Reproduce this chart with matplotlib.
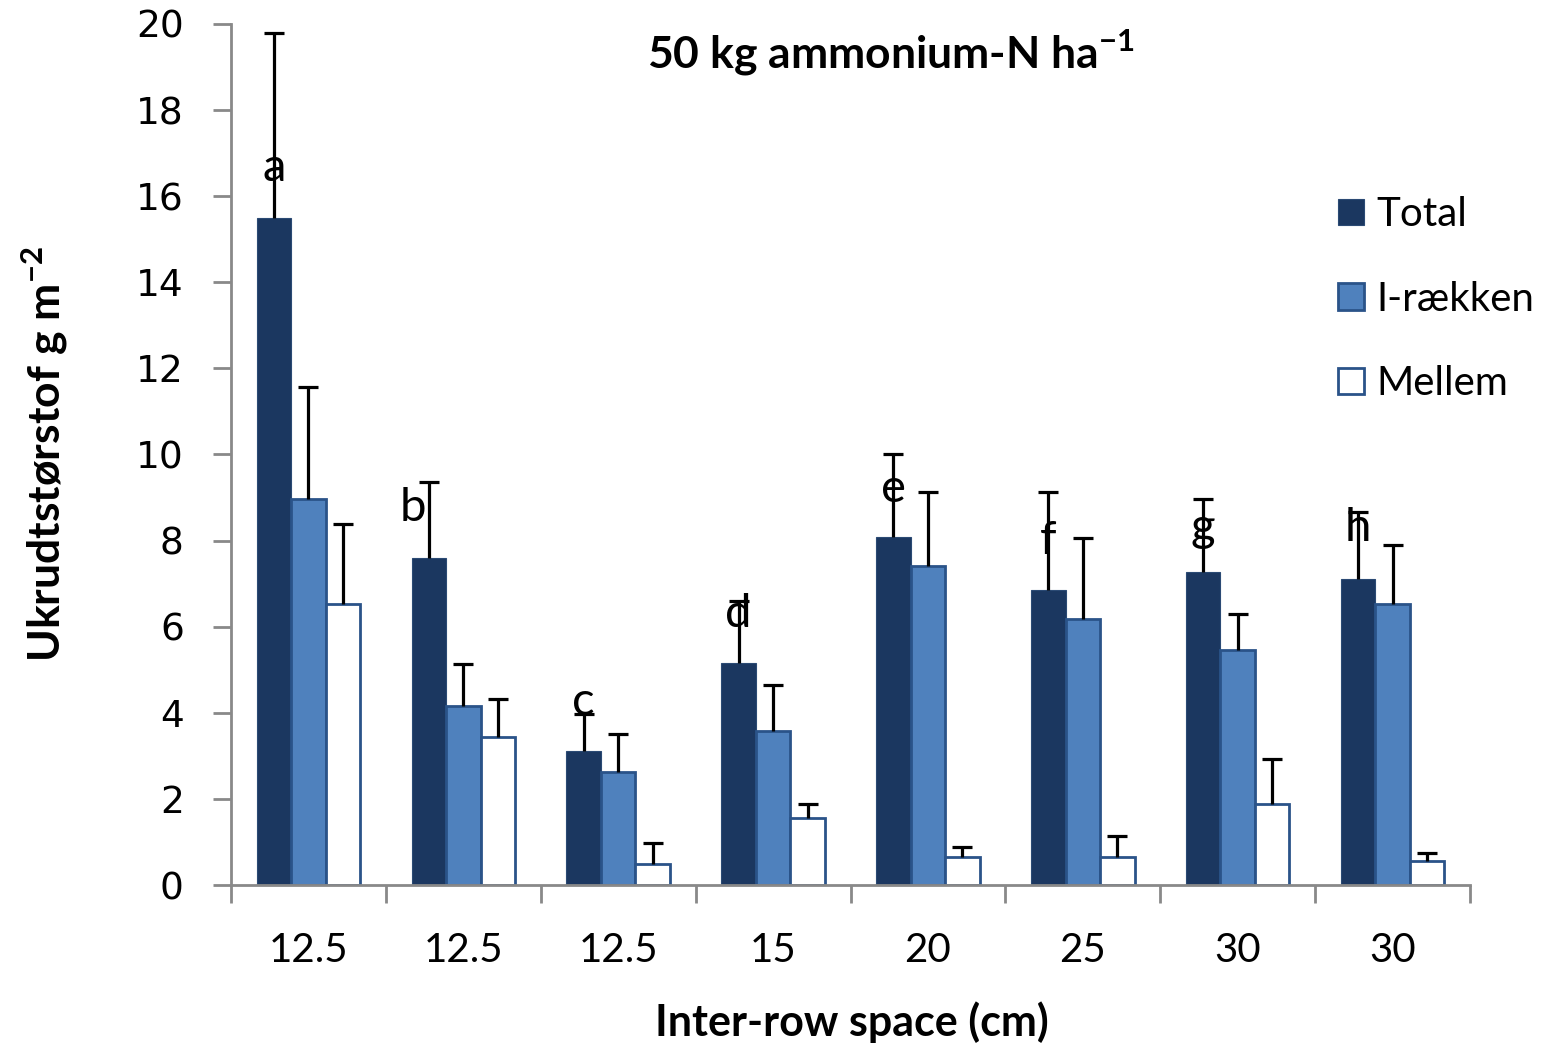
import matplotlib.pyplot as plt
import numpy as np

plt.rcParams['font.family'] = ['Lato', 'DejaVu Sans']
plt.rcParams['mathtext.fontset'] = 'custom'
plt.rcParams['mathtext.rm'] = 'Lato'
plt.rcParams['mathtext.bf'] = 'Lato:bold'

# data
spacing = ['12.5', '12.5', '12.5', '15', '20', '25', '30', '30']
total = [15.5, 7.60, 3.11, 5.16, 8.09, 6.86, 7.27, 7.11]
total_err = [4.29, 1.76, 0.87, 1.44, 1.92, 2.27, 1.70, 1.56]
irakken = [8.96, 4.16, 2.62, 3.58, 7.42, 6.19, 5.46, 6.53]
irakken_err = [2.61, 0.97, 0.89, 1.07, 1.71, 1.86, 0.83, 1.37]
mellem = [6.52, 3.44, 0.49, 1.56, 0.66, 0.66, 1.88, 0.56]
mellem_err = [1.87, 0.88, 0.49, 0.32, 0.23, 0.48, 1.05, 0.18]
letters = ['a', 'b', 'c', 'd', 'e', 'f', 'g', 'h']
letter_y = [16.65, 8.75, 4.25, 6.3, 9.2, 8.0, 8.3, 8.3]
letter_dx = [0, -0.1, 0, 0, 0, 0, 0, 0]

c_total = '#1b3760'
c_irak = '#4f81bd'
c_edge = '#2a5389'
c_axis = '#898989'

x = np.arange(len(spacing))
w = 0.223

fig = plt.figure(figsize=(15.52, 10.48), dpi=100)
ax = fig.add_axes([231/1552, 1-885/1048, 1239/1552, 861/1048])

b1 = ax.bar(x - w, total, w, color=c_total, edgecolor='#2b4a74', linewidth=0.8, label='Total', zorder=2)
b2 = ax.bar(x, irakken, w, color=c_irak, edgecolor=c_edge, linewidth=2, label='I-rækken', zorder=2)
b3 = ax.bar(x + w, mellem, w, color='white', edgecolor=c_edge, linewidth=2, label='Mellem', zorder=2)

# only the upper half of the error bars, cap on top
zeros = np.zeros(len(x))
for xs, vals, errs in [(x - w, total, total_err), (x, irakken, irakken_err), (x + w, mellem, mellem_err)]:
    ax.errorbar(xs, vals, yerr=[zeros, errs], fmt='none', ecolor='black',
                elinewidth=2.3, capsize=0, zorder=3)
    ax.plot(xs, np.array(vals) + np.array(errs), linestyle='none', marker='_',
            markersize=15, markeredgewidth=2.3, color='black', zorder=3)

for i, lt in enumerate(letters):
    ax.text(x[i] - w + letter_dx[i], letter_y[i], lt, ha='center', va='center',
            fontsize=34, color='black', zorder=4)

ax.set_xlim(-0.5, len(x) - 0.5)
ax.set_ylim(0, 20)
ax.set_yticks(np.arange(0, 21, 2))
ax.set_yticklabels([str(v) for v in range(0, 21, 2)], fontsize=27, family='DejaVu Sans')
ax.tick_params(axis='y', direction='out', length=13, width=2, color=c_axis, pad=21)

ax.set_xticks(np.arange(-0.5, len(x), 1))
ax.set_xticklabels([])
ax.tick_params(axis='x', which='major', direction='out', length=13, width=2, color=c_axis)
ax.set_xticks(x, minor=True)
ax.set_xticklabels(spacing, minor=True, fontsize=29)
ax.tick_params(axis='x', which='minor', length=0, pad=34)

for s in ['top', 'right']:
    ax.spines[s].set_visible(False)
for s in ['left', 'bottom']:
    ax.spines[s].set_color(c_axis)
    ax.spines[s].set_linewidth(2)

ax.set_xlabel('Inter-row space (cm)', fontsize=31, fontweight='bold')
ax.xaxis.set_label_coords(0.501, -0.159)
ax.xaxis.label.set_va('center')
ax.set_ylabel(r'Ukrudtstørstof g m$^{\mathbf{-2}}$', fontsize=32, fontweight='bold')
ax.yaxis.set_label_coords(-0.150, 0.5)
ax.yaxis.label.set_va('center')

ax.text(0.533, 0.967, r'50 kg ammonium-N ha$^{\mathbf{-1}}$', transform=ax.transAxes,
        ha='center', va='center', fontsize=32, fontweight='bold')

leg = ax.legend(handles=[b1, b2, b3], loc='upper left', bbox_to_anchor=(1322/1552, 1-180/1048),
                bbox_transform=fig.transFigure, frameon=False, fontsize=29,
                handlelength=0.65, handleheight=0.65, handletextpad=0.3, labelspacing=1.18,
                borderaxespad=0)

fig.savefig('out.png', dpi=100)
